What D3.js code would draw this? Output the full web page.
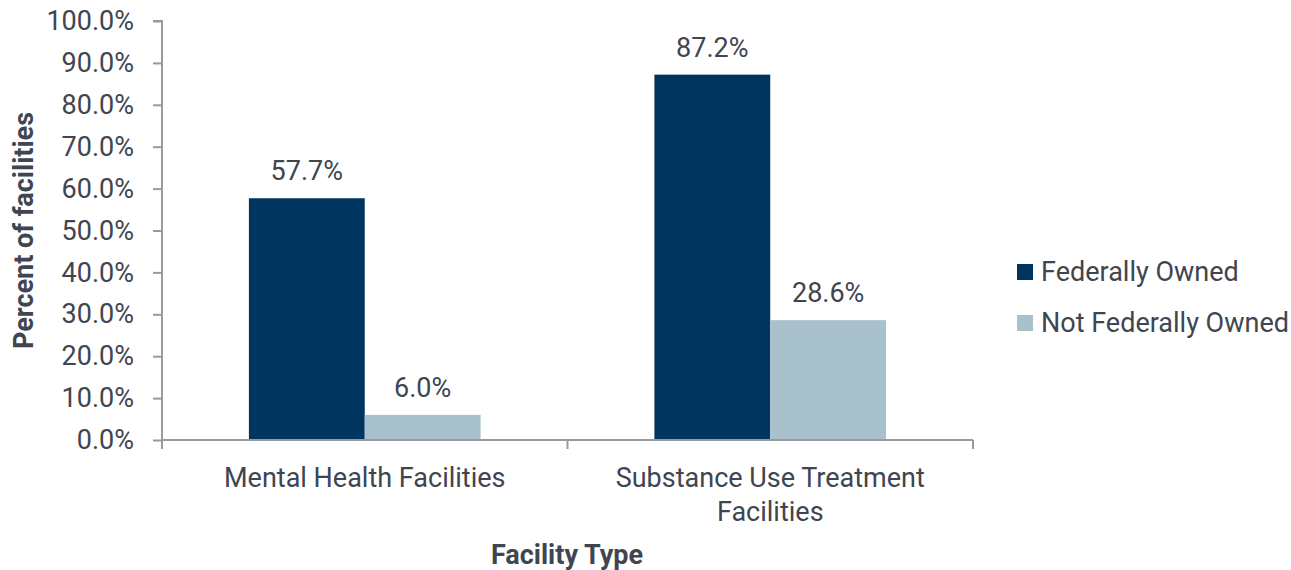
<!DOCTYPE html>
<html><head><meta charset="utf-8">
<script src="https://cdn.jsdelivr.net/npm/d3@7"></script>
<style>body{margin:0;background:#fff;}svg{display:block;font-family:Roboto,sans-serif;}</style>
</head><body>
<svg id="c" width="1291" height="570"></svg>
<script>
const categories = [["Mental Health Facilities"], ["Substance Use Treatment", "Facilities"]];
const categoryKeys = ["Mental Health Facilities", "Substance Use Treatment Facilities"];
const seriesNames = ["Federally Owned", "Not Federally Owned"];
const federallyOwned = [57.7, 87.2];
const notFederallyOwned = [6.0, 28.6];
const yTicks = [0, 10, 20, 30, 40, 50, 60, 70, 80, 90, 100];
const colors = ["#003560", "#a9c0cd"];

const svg = d3.select("#c");
const m = {l:162, r:973, t:21, b:440};
const textColor = "#404550", axisColor = "#9a9a9a";
const fs = "27px";

const x0 = d3.scaleBand().domain(categoryKeys).range([m.l, m.r]).paddingInner(0).paddingOuter(0);
const x1 = d3.scaleBand().domain(seriesNames).range([0, x0.bandwidth()]).paddingInner(0).paddingOuter(0.75);
const y = d3.scaleLinear().domain([0, 100]).range([m.b, m.t]);

const series = [federallyOwned, notFederallyOwned];

// y axis
const ya = svg.append("g").attr("transform", `translate(${m.l},0)`)
  .call(d3.axisLeft(y).tickValues(yTicks).tickSize(9).tickPadding(19).tickFormat(d => d.toFixed(1) + "%"));
ya.select(".domain").attr("stroke", axisColor).attr("stroke-width", 2).attr("d", `M-9,${m.t}H0V${m.b}`);
ya.selectAll(".tick line").attr("stroke", axisColor).attr("stroke-width", 2);
ya.selectAll(".tick text").attr("fill", textColor).style("font-size", fs).attr("font-family", "Roboto");

// bars
categoryKeys.forEach((c, i) => {
  series.forEach((s, j) => {
    svg.append("rect")
      .attr("x", x0(c) + x1(seriesNames[j]))
      .attr("y", y(s[i]))
      .attr("width", x1.bandwidth())
      .attr("height", y(0) - y(s[i]))
      .attr("fill", colors[j]);
    svg.append("text")
      .attr("x", x0(c) + x1(seriesNames[j]) + x1.bandwidth() / 2)
      .attr("y", y(s[i]) - 18)
      .attr("text-anchor", "middle")
      .attr("fill", textColor)
      .style("font-size", fs)
      .text(s[i].toFixed(1) + "%");
  });
});

// x axis
const xa = svg.append("g").attr("transform", `translate(0,${m.b})`);
xa.append("line").attr("x1", m.l).attr("x2", m.r).attr("stroke", axisColor).attr("stroke-width", 2);
const bounds = [m.l, ...categoryKeys.map(c => x0(c) + x0.bandwidth())];
bounds.forEach(b => xa.append("line").attr("x1", b).attr("x2", b).attr("y1", 0).attr("y2", 9).attr("stroke", axisColor).attr("stroke-width", 2));
categoryKeys.forEach((c, i) => {
  const t = xa.append("text").attr("text-anchor", "middle").attr("fill", textColor).style("font-size", fs);
  categories[i].forEach((line, k) => {
    t.append("tspan").attr("x", x0(c) + x0.bandwidth() / 2).attr("y", 47 + k * 34).text(line);
  });
});

// axis titles
svg.append("text").attr("transform", `translate(33,${(m.t + m.b) / 2}) rotate(-90)`)
  .attr("text-anchor", "middle").attr("fill", textColor).style("font-size", fs).style("font-weight", "bold")
  .text("Percent of facilities");
svg.append("text").attr("x", 567).attr("y", 564)
  .attr("text-anchor", "middle").attr("fill", textColor).style("font-size", fs).style("font-weight", "bold")
  .text("Facility Type");

// legend
seriesNames.forEach((n, j) => {
  const g = svg.append("g").attr("transform", `translate(1017,${272 + j * 51})`);
  g.append("rect").attr("x", 0).attr("y", -8).attr("width", 16).attr("height", 16).attr("fill", colors[j]);
  g.append("text").attr("x", 24).attr("y", 0).attr("dy", "0.35em").attr("fill", textColor).style("font-size", fs).text(n);
});
</script>
</body></html>
